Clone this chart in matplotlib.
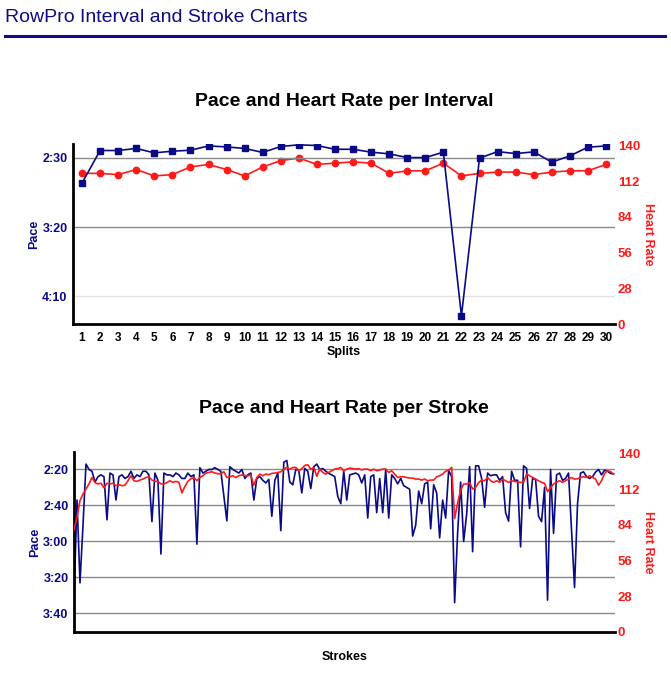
import matplotlib
matplotlib.use("Agg")
import matplotlib.pyplot as plt
from matplotlib.ticker import FuncFormatter
from matplotlib.lines import Line2D

plt.rcParams['font.family'] = ['Liberation Sans', 'DejaVu Sans']
plt.rcParams['font.weight'] = 'bold'
plt.rcParams['axes.labelweight'] = 'bold'

NAVY = '#0a0a86'
RED = '#ff1a1a'

# ---------------- Interval data ----------------
splits = list(range(1, 31))
split_pace = [168.2, 144.7, 144.7, 143.2, 146.4, 145.2, 144.5, 141.4, 142.1, 143.2,
              146.1, 141.8, 140.6, 141.1, 143.8, 143.8, 145.9, 147.1, 149.8, 149.8,
              145.9, 264.2, 150.2, 145.5, 146.9, 145.7, 153.1, 148.6, 142.3, 141.4]
split_hr = [118, 118, 117, 121, 116, 117, 123, 125, 121, 116,
            123, 128, 130, 125, 126, 127, 126, 118, 120, 120,
            126, 116, 118, 119, 119, 117, 119, 120, 120, 125]

# ---------------- Stroke data ----------------
stroke_pace = [
    212, 157, 203, 171, 137, 140, 141, 147, 144, 143,
    144, 168, 142, 143, 157, 144, 143, 145, 144, 141,
    145, 143, 144, 141, 141, 143, 169, 142, 146, 187,
    142, 143, 143, 144, 142, 143, 145, 145, 142, 144,
    143, 181.5, 139, 142, 141, 140, 140, 139, 140, 141,
    155, 168.5, 138.5, 140, 141, 142, 140, 145, 143, 142,
    157, 145, 144, 146, 147.5, 145.5, 166, 146, 142, 174,
    136, 135, 147, 148.5, 140, 140.5, 153, 139.4, 141, 150.6,
    138.5, 137, 140, 139.5, 141, 142.2, 143, 144, 155, 159,
    141, 157, 143, 142.5, 142, 143, 147.5, 143, 167, 144,
    143, 164, 145, 164, 140, 167, 143, 145, 148, 145,
    149, 150, 151, 177, 171, 152, 159, 148, 147, 173,
    148.5, 153, 178, 157, 167, 140.5, 144, 214, 175, 147,
    180, 165, 138.5, 185.7, 138, 138, 145, 161, 142, 143.5,
    143, 143, 146, 144, 164, 168.7, 141, 146, 146, 183,
    138, 139.4, 161.7, 145, 145.5, 166, 169, 150, 212.6, 140,
    175.5, 143, 142, 146, 145, 142, 173.7, 205.6, 159, 142,
    141.3, 144, 145, 144, 141.5, 140, 143, 140.4, 141, 142.2,
    142.5]
stroke_hr = [
    80, 90, 103, 108, 112, 116, 121, 117, 116, 116.5,
    113, 116.5, 116, 116.5, 114.6, 115.4, 114.6, 115, 118.5, 122.4,
    118.5, 118, 119, 119.8, 121, 121.6, 119, 118, 118, 116,
    116, 117, 118.5, 117.2, 118, 117.2, 109, 114, 118, 120,
    121, 118.5, 121, 122.4, 124.5, 125, 125.5, 124.5, 124, 124,
    125.5, 121, 121.5, 122.4, 121, 122.4, 123, 122.5, 122.4, 123,
    115, 121, 123.7, 122.4, 123.7, 123.2, 124.2, 124.5, 125, 125.5,
    127.6, 128.9, 127.6, 128.9, 128.9, 126.3, 128, 130.5, 131, 127.6,
    128.9, 122, 127.6, 125, 123.7, 125, 126.3, 127.6, 128, 128.9,
    126.3, 127.6, 128.4, 128, 127.6, 128, 127, 127.6, 127.6, 126.3,
    127.6, 126.3, 126.8, 127.6, 127.6, 125, 126.3, 123.7, 121, 121.6,
    121.6, 121, 120.6, 120.6, 119.8, 119.8, 119, 119.8, 118.5, 119,
    119, 121.6, 122.4, 123.7, 126, 126.7, 128.9, 89, 101, 111,
    115.9, 116, 117, 112, 113.3, 117, 119, 118.5, 121, 118.5,
    117.2, 118.5, 117.2, 119.8, 118.5, 117.2, 118.5, 118, 117.5, 117.2,
    117.2, 123.7, 122.4, 121.1, 119.8, 118.5, 117.2, 116.5, 110, 113,
    116, 117.2, 118.5, 117.2, 118.5, 119.8, 121, 119.8, 120, 121.1,
    121.6, 121.1, 122.4, 121.1, 119.8, 115, 118.5, 124, 126.3, 125.7,
    123.7]
strokes = list(range(len(stroke_pace)))

pace_ticks_top = [150, 200, 250]
pace_ticks_bottom = [140, 160, 180, 200, 220]
hr_ticks = [0, 28, 56, 84, 112, 140]

W, H = 671, 678


def pace_fmt(v, pos):
    v = int(round(v))
    return f"{v // 60}:{v % 60:02d}"


fig = plt.figure(figsize=(W / 100, H / 100), dpi=100)

fig.text(5 / W, 1 - 17 / H, "RowPro Interval and Stroke Charts", fontsize=14,
         color='#0c0c84', weight='normal', ha='left', va='center')
fig.add_artist(Line2D([5 / W, 665 / W], [1 - 36 / H, 1 - 36 / H],
                      color='#0c0c8c', lw=2.2))


def style_axes(ax, ax2, pace_ticks, pace_lim):
    ax.set_ylim(*pace_lim)
    ax.set_yticks(pace_ticks)
    ax.yaxis.set_major_formatter(FuncFormatter(pace_fmt))
    ax.grid(axis='y', color='#8a8a8a', lw=1)
    ax.set_axisbelow(True)
    for s in ['top', 'right']:
        ax.spines[s].set_visible(False)
    for s in ['left', 'bottom']:
        ax.spines[s].set_linewidth(2)
        ax.spines[s].set_color('black')
    ax.tick_params(axis='y', length=0, pad=4, labelsize=9, labelcolor=NAVY)
    ax.set_ylabel('Pace', color=NAVY, fontsize=9, labelpad=1.5)
    ax2.set_ylim(0, 141)
    ax2.set_yticks(hr_ticks)
    for s in ax2.spines.values():
        s.set_visible(False)
    ax2.tick_params(axis='y', length=0, pad=2, labelsize=9.5, labelcolor=RED)
    ax2.set_ylabel('Heart Rate', color=RED, fontsize=9, rotation=-90, labelpad=10)


# ---------- Top chart ----------
fig.text(344 / W, 1 - 101 / H, "Pace and Heart Rate per Interval", fontsize=14,
         ha='center', va='center', color='black')
ax1 = fig.add_axes([73 / W, 1 - 324 / H, 542 / W, 180 / H])
ax1b = ax1.twinx()
ax1b.plot(splits, split_hr, color=RED, lw=1.2, marker='o', markersize=4.6)
ax1.plot(splits, split_pace, color=NAVY, lw=1.2, marker='s', markersize=4.3)
ax1.set_zorder(ax1b.get_zorder() + 1)
ax1.patch.set_visible(False)
ax1.set_xlim(0.5, 30.5)
ax1.set_xticks(splits)
ax1.tick_params(axis='x', length=0, pad=6, labelsize=8.5, labelcolor='black')
ax1.set_xlabel('Splits', fontsize=9, labelpad=1)
style_axes(ax1, ax1b, pace_ticks_top, (270, 140))
gl = ax1.yaxis.get_gridlines()
gl[2].set_color('#e2e2e2')

# ---------- Bottom chart ----------
fig.text(344 / W, 1 - 408 / H, "Pace and Heart Rate per Stroke", fontsize=14,
         ha='center', va='center', color='black')
ax2 = fig.add_axes([74 / W, 1 - 632 / H, 541 / W, 180 / H])
ax2b = ax2.twinx()
ax2.plot(strokes, stroke_pace, color=NAVY, lw=1.2)
ax2b.plot(strokes, stroke_hr, color=RED, lw=1.2)
ax2.set_xlim(0, len(strokes) - 0.5)
ax2.set_xticks([])
ax2.set_xlabel('Strokes', fontsize=9, labelpad=14)
style_axes(ax2, ax2b, pace_ticks_bottom, (230.3, 130.3))

fig.savefig('out.png', dpi=100)
